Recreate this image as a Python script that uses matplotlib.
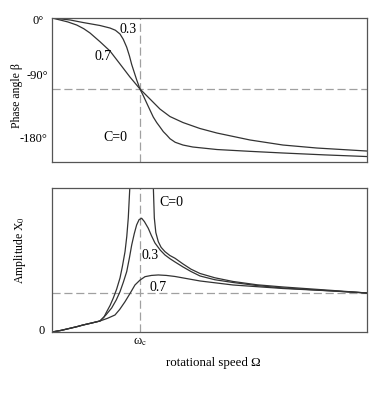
import numpy as np
import matplotlib
matplotlib.use("Agg")
import matplotlib.pyplot as plt

plt.rcParams['font.family'] = ['Liberation Serif', 'DejaVu Serif']
plt.rcParams['mathtext.fontset'] = 'stix'

# x axis: rotational speed as ratio Omega / omega_c
# phase angle (degrees), damping 0.3 and 0.7
x_ph_03 = [0, 0.1, 0.205, 0.352, 0.545, 0.659, 0.72, 0.773, 0.81, 0.849, 0.88, 0.906,
           0.935, 0.963, 1.0, 1.04, 1.076, 1.115, 1.151, 1.19, 1.227, 1.265, 1.303,
           1.341, 1.40, 1.489, 1.6, 1.875, 2.25, 2.625, 3.1, 3.58]
ph_03 = [0, -1.2, -2.5, -5.7, -9.5, -12.7, -15.5, -20.3, -27, -37, -48, -59,
         -69, -78.6, -90, -99, -107.7, -117, -125.5, -132.5, -138.1, -144, -148.3,
         -153, -157.5, -161, -163.5, -166.7, -169, -171.1, -173.5, -175.6]
x_ph_07 = [0, 0.091, 0.18, 0.281, 0.36, 0.432, 0.545, 0.659, 0.773, 0.886, 1.0, 1.114,
           1.227, 1.341, 1.489, 1.68, 1.875, 2.25, 2.625, 3.011, 3.58]
ph_07 = [0, -2.5, -5, -8.9, -13.5, -19.0, -30.0, -41.8, -58.3, -74.8, -90, -102.7,
         -115.4, -124.9, -132.5, -140, -145.8, -154.6, -161.0, -164.8, -168.6]

# amplitude X0 (relative), C=0 split in two branches
x_c0_left = [0, 0.1, 0.205, 0.28, 0.352, 0.45, 0.545, 0.59, 0.622, 0.66, 0.697, 0.735,
             0.773, 0.80, 0.830, 0.85, 0.867, 0.886, 0.898]
amp_c0_left = [0, 0.04, 0.095, 0.135, 0.179, 0.23, 0.282, 0.38, 0.521, 0.68, 0.872, 1.1,
               1.385, 1.68, 2.059, 2.45, 2.923, 3.769, 4.41]
x_c0_right = [1.142, 1.151, 1.163, 1.18, 1.208, 1.24, 1.284, 1.34, 1.398, 1.489, 1.58,
              1.682, 1.85, 2.057, 2.33, 2.625, 3.193, 3.58]
amp_c0_right = [4.41, 3.769, 2.923, 2.55, 2.315, 2.17, 2.059, 1.96, 1.890, 1.744, 1.61,
                1.5, 1.39, 1.295, 1.21, 1.154, 1.064, 1.0]
x_amp_03 = [0, 0.1, 0.205, 0.28, 0.352, 0.45, 0.545, 0.61, 0.678, 0.73, 0.773, 0.81,
            0.849, 0.88, 0.906, 0.935, 0.962, 0.99, 1.019, 1.05, 1.094, 1.13, 1.170,
            1.23, 1.284, 1.34, 1.398, 1.489, 1.58, 1.682, 1.85, 2.057, 2.33, 2.625,
            3.193, 3.58]
amp_03 = [0, 0.04, 0.095, 0.135, 0.179, 0.23, 0.282, 0.43, 0.615, 0.82, 1.033, 1.27,
          1.546, 1.9, 2.231, 2.52, 2.744, 2.88, 2.915, 2.83, 2.659, 2.47, 2.282,
          2.1, 1.974, 1.88, 1.795, 1.667, 1.55, 1.436, 1.34, 1.269, 1.19, 1.128,
          1.051, 1.0]
x_amp_07 = [0, 0.1, 0.205, 0.28, 0.352, 0.45, 0.545, 0.63, 0.716, 0.77, 0.830, 0.89,
            0.943, 1.0, 1.057, 1.13, 1.208, 1.30, 1.398, 1.682, 2.057, 2.625, 3.193, 3.58]
amp_07 = [0, 0.04, 0.095, 0.135, 0.179, 0.23, 0.282, 0.35, 0.436, 0.58, 0.777, 1.0,
          1.205, 1.33, 1.418, 1.45, 1.462, 1.45, 1.423, 1.308, 1.205, 1.115, 1.051, 1.0]

line_c = '#333333'
dash_c = '#a0a0a0'
lw = 0.9
fs_ann = 10      # curve labels
fs_tick = 9      # hand placed tick labels
fs_lab = 8.5     # axis labels

fig = plt.figure(figsize=(3.84, 3.93), dpi=100)
ax1 = fig.add_axes([0.1354, 0.5878, 0.8203, 0.3664])
ax2 = fig.add_axes([0.1354, 0.1552, 0.8203, 0.3664])

for ax in (ax1, ax2):
    ax.set_xlim(0, 3.58)
    ax.set_xticks([])
    ax.set_yticks([])
    for s in ax.spines.values():
        s.set_color('#555555')
        s.set_linewidth(0.9)
    ax.axvline(1.0, color=dash_c, lw=0.9, dashes=(6.5, 3))

# phase plot
ax1.set_ylim(-182.5, 0)
ax1.axhline(-90, color=dash_c, lw=0.9, dashes=(6.5, 3))
ax1.plot(x_ph_03, ph_03, color=line_c, lw=lw)
ax1.plot(x_ph_07, ph_07, color=line_c, lw=lw)
ax1.text(0.864, -15.2, '0.3', fontsize=fs_ann, ha='center', va='center')
ax1.text(0.585, -49.4, '0.7', fontsize=fs_ann, ha='center', va='center')
ax1.text(0.716, -152, 'C=0', fontsize=fs_ann, ha='center', va='center')
ax1.text(-0.025, 0.979, '0°', transform=ax1.transAxes, fontsize=fs_tick, ha='right', va='center')
ax1.text(-0.013, 0.597, '-90°', transform=ax1.transAxes, fontsize=fs_tick, ha='right', va='center')
ax1.text(-0.016, 0.16, '-180°', transform=ax1.transAxes, fontsize=fs_tick, ha='right', va='center')

# amplitude plot
ax2.set_ylim(0, 3.69)
ax2.axhline(1.0, color=dash_c, lw=0.9, dashes=(6.5, 3))
ax2.plot(x_c0_left, amp_c0_left, color=line_c, lw=lw)
ax2.plot(x_c0_right, amp_c0_right, color=line_c, lw=lw)
ax2.plot(x_amp_03, amp_03, color=line_c, lw=lw)
ax2.plot(x_amp_07, amp_07, color=line_c, lw=lw)
ax2.text(1.36, 3.33, 'C=0', fontsize=fs_ann, ha='center', va='center')
ax2.text(1.11, 1.95, '0.3', fontsize=fs_ann, ha='center', va='center')
ax2.text(1.20, 1.13, '0.7', fontsize=fs_ann, ha='center', va='center')
ax2.text(-0.022, 0.007, '0', transform=ax2.transAxes, fontsize=fs_tick, ha='right', va='center')
ax2.text(1.0, -0.07, r'ω$_\mathrm{c}$', transform=ax2.get_xaxis_transform(), fontsize=fs_tick,
         ha='center', va='center')

fig.text(0.044, 0.756, 'Phase angle β', rotation=90, fontsize=fs_lab, ha='center', va='center')
fig.text(0.052, 0.364, r'Amplitude X$_0$', rotation=90, fontsize=fs_lab, ha='center', va='center')
fig.text(0.555, 0.0763, 'rotational speed Ω', fontsize=9.3, ha='center', va='center')

fig.savefig('out.png', dpi=100)
